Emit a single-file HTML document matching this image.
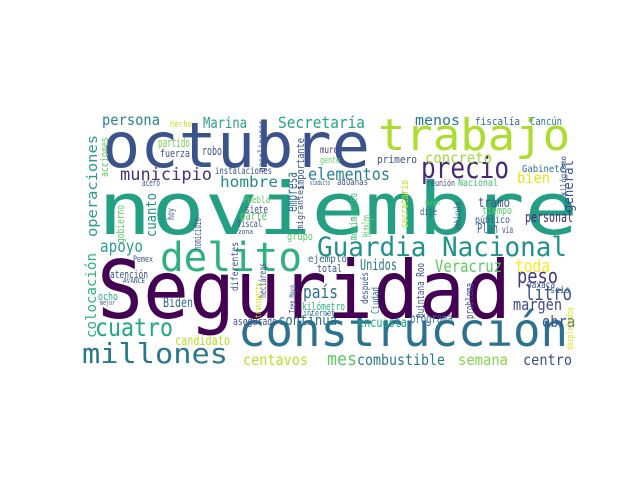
<!DOCTYPE html>
<html><head><meta charset="utf-8"><style>
html,body{margin:0;padding:0;background:#fff;width:640px;height:480px;overflow:hidden}
svg text{font-family:"DejaVu Sans Mono","Liberation Mono",monospace}
</style></head><body>
<svg id="cloud" width="640" height="480" viewBox="0 0 640 480" xmlns="http://www.w3.org/2000/svg"></svg>
<script>
const words = [
["octubre",102,167,62,268,"#3b528b",0],
["trabajo",378,150,44,192,"#addc30",0],
["noviembre",98,234,72,480,"#23a083",0],
["delito",160,271,40,142,"#2db27d",0],
["Guardia Nacional",317,256,27,250,"#21918c",0],
["precio",421,178,29,88,"#482878",0],
["construcción",238,346,46,330,"#2c718e",0],
["Seguridad",97,318,80,414,"#440154",0],
["millones",82,363,28,146,"#2a788e",0],
["cuatro",95,336,25,78,"#22a884",0],
["Secretaría",278,128,16,87,"#20a486",0],
["persona",102,125,15,58,"#25848e",0],
["Marina",203,128,15,44,"#2a9d8f",0],
["hecho",170,127,9,22,"#c2df23",0],
["partido",158,147,12,32,"#7ad151",0],
["robo",202,155,12,20,"#3b528b",0],
["fuerza",160,157,11,30,"#3b528b",0],
["muro",320,153,10,18,"#443983",0],
["gente",320,163,9,20,"#5ec962",0],
["municipio",120,180,17,92,"#46327e",0],
["hombre",220,187,15,58,"#228c8d",0],
["instalaciones",215,174,10,57,"#3b528b",0],
["acero",142,186,10,18,"#3b528b",0],
["elementos",308,180,17,82,"#27808e",0],
["menos",415,125,14,45,"#2a788e",0],
["fiscalía",475,125,11,45,"#31688e",0],
["Cancún",530,125,11,32,"#2a788e",0],
["concreto",425,163,15,67,"#9fda3a",0],
["primero",377,163,11,40,"#3e4989",0],
["Gabinete",522,172,10,43,"#2c718e",0],
["bien",517,183,15,33,"#e5e419",0],
["Nacional",458,186,10,40,"#3dbc74",0],
["reunión",427,186,9,28,"#3e4989",0],
["aduanas",337,185,9,31,"#3b528b",0],
["viaducto",310,185,7,20,"#3b528b",0],
["mundo",425,205,7,15,"#5ec962",0],
["tramo",478,207,13,32,"#3b528b",0],
["tiempo",482,214,11,30,"#5ec962",0],
["dije",420,215,10,17,"#3b528b",0],
["público",475,223,10,35,"#3b528b",0],
["personal",525,222,14,48,"#482878",0],
["Plan",477,233,13,21,"#31688e",0],
["vía",502,233,10,11,"#3b528b",0],
["Puebla",243,203,10,27,"#5ec962",0],
["siete",245,213,11,23,"#3b528b",0],
["parte",240,220,12,27,"#5ec962",0],
["fiscal",237,227,10,25,"#3b528b",0],
["zona",238,234,7,15,"#3b528b",0],
["grupo",287,240,11,26,"#5ec962",0],
["apoyo",100,252,17,43,"#2a9d8f",0],
["Pemex",133,262,9,20,"#3b528b",0],
["atención",110,278,11,38,"#3b528b",0],
["AVANCE",123,283,7,22,"#3b528b",0],
["ocho",98,300,11,20,"#22a884",0],
["mejor",100,305,7,15,"#3b528b",0],
["Biden",163,307,13,30,"#31688e",0],
["ejemplo",308,262,10,39,"#31688e",0],
["total",317,272,11,25,"#3b528b",0],
["Unidos",360,270,15,37,"#2a788e",0],
["Veracruz",435,272,17,67,"#5ec962",0],
["toda",515,272,18,35,"#fde725",0],
["peso",517,283,20,41,"#443983",0],
["Oaxaca",527,288,10,28,"#3b528b",0],
["seis",550,293,10,20,"#31688e",0],
["litro",525,300,20,47,"#3b528b",0],
["país",303,298,18,35,"#2c718e",0],
["margen",513,310,16,49,"#3e4989",0],
["kilómetro",302,310,11,43,"#2db27d",0],
["internet",303,316,9,32,"#2c718e",0],
["continúa",278,325,14,59,"#2c718e",0],
["asegurado",233,325,11,44,"#3b528b",0],
["encuesta",358,327,13,49,"#20a486",0],
["programa",410,323,13,43,"#31688e",0],
["obra",542,327,16,33,"#3b528b",0],
["candidato",175,345,13,55,"#b8de29",0],
["centavos",243,365,15,65,"#b8de29",0],
["mes",327,365,18,30,"#5ec962",0],
["combustible",357,365,15,88,"#2a788e",0],
["semana",458,365,15,50,"#84d44b",0],
["centro",523,365,15,49,"#3b528b",0],
["operaciones",97,237,14,102,"#2a9d8f",1],
["acciones",108,177,11,40,"#5ec962",1],
["colocación",96,338,14,85,"#2db27d",1],
["cuanto",156,237,14,44,"#21918c",1],
["gobierno",124,243,11,38,"#5ec962",1],
["hoy",174,220,10,12,"#3b528b",1],
["empresa",297,212,15,40,"#2c718e",1],
["importante",304,190,11,52,"#3b528b",1],
["migrantes",303,230,9,45,"#3b528b",1],
["gasolineras",265,172,10,52,"#3b528b",1],
["homicidio",201,250,11,32,"#3b528b",1],
["movimiento",357,240,11,47,"#3dbc74",1],
["Hidalgo",371,237,12,22,"#5ec962",1],
["secretario",408,228,11,48,"#b8de29",1],
["vehículo",461,230,10,28,"#3b528b",1],
["general",573,212,14,52,"#3b528b",1],
["kilógramo",566,196,8,40,"#3b528b",1],
["Quintana Roo",424,318,11,55,"#3b528b",1],
["Ciudad",379,314,11,27,"#31688e",1],
["después",368,304,10,32,"#3b528b",1],
["problema",473,319,11,36,"#3b528b",1],
["diferentes",238,291,10,49,"#3b528b",1],
["hectáreas",266,298,10,35,"#3b528b",1],
["Tren Maya",296,313,10,28,"#3b528b",1],
["transporte",261,318,9,35,"#d8e219",1],
["desplegados",573,350,9,43,"#d8e219",1]
];
const svg=document.getElementById('cloud');
words.forEach(w=>{
  const t=document.createElementNS('http://www.w3.org/2000/svg','text');
  
  
  t.setAttribute('font-size',w[3]);
  t.setAttribute('fill',w[5]);
  t.setAttribute('textLength',w[4]);
  t.setAttribute('lengthAdjust','spacingAndGlyphs');
  if(w[6]){
    t.setAttribute('x',0);t.setAttribute('y',0);
    t.setAttribute('transform','translate('+w[1]+','+w[2]+') rotate(-90)');
  } else {
    t.setAttribute('x',w[1]);t.setAttribute('y',w[2]);
  }
  t.textContent=w[0];
  svg.appendChild(t);
});
</script>
</body></html>
